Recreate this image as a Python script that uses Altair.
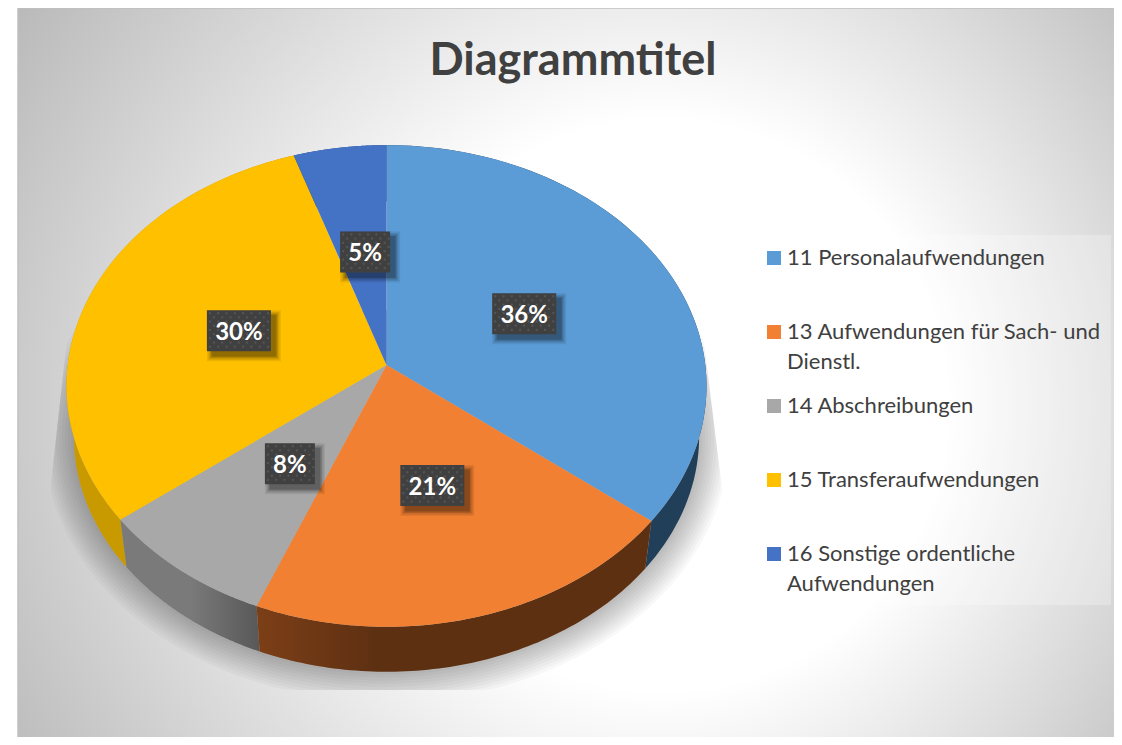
import numpy as np
import pandas as pd
import altair as alt

categories = ["11 Personalaufwendungen", "13 Aufwendungen für Sach- und\nDienstl.", "14 Abschreibungen",
              "15 Transferaufwendungen", "16 Sonstige ordentliche\nAufwendungen"]
values = [35.6, 20.51, 8.39, 30.4, 5.1]
colors = ["#5b9bd6", "#f28032", "#a8a8a8", "#ffc000", "#4472c4"]
wall_a = ["#213f58", "#7c3f17", "#7a7a7a", "#c99a00", "#2b4a82"]
wall_b = ["#213f58", "#5e3012", "#585858", "#b98c00", "#2b4a82"]
wall_mid = [0.5, 0.3, 0.5, 0.5, 0.5]
label_shift = [-3, 3, 3, 3, 3]

W, H = 1106, 729
CX, CY, A, B, K = 386.5, 365.0, 318.8, 239.0, 0.087


def project(theta, f=1.0):
    u, v = np.sin(theta) * f, np.cos(theta) * f
    w = 1 + K * v
    return CX + A * u / w, CY - B * v / w


def lower(x, y):
    return CX + 0.977 * (x - CX), CY + 51 + 0.977 * (y - CY)


xscale = alt.Scale(domain=[8, 8 + W], nice=False, zero=False)
yscale = alt.Scale(domain=[8 + H, 8], nice=False, zero=False)
xs = alt.X("x:Q", scale=xscale, axis=None)
ys = alt.Y("y:Q", scale=yscale, axis=None)


def poly(px, py, paint, opacity=1.0):
    df = pd.DataFrame({"x": np.round(px, 2), "y": np.round(py, 2), "o": np.arange(len(px))})
    return alt.Chart(df).mark_line(filled=True, interpolate="linear-closed", color=paint,
                                   strokeWidth=0, opacity=opacity, clip=False).encode(
        x=xs, y=ys, order=alt.Order("o:Q"))


def box(x0, x1, y0, y1, **kw):
    df = pd.DataFrame({"x": [x0], "x2": [x1], "y": [y0], "y2": [y1]})
    return alt.Chart(df).mark_rect(**kw).encode(x=xs, x2="x2:Q", y=ys, y2="y2:Q")


layers = []

# chart area with radial gradient (box deliberately taller than the view, the page clips it)
layers.append(box(18, 1130, -200, 950,
                  color=alt.RadialGradient(gradient="radial", x1=0.613, y1=0.53, r1=0.0,
                                           x2=0.523, y2=0.522, r2=0.62,
                                           stops=[alt.GradientStop(offset=0, color="#ffffff"),
                                                  alt.GradientStop(offset=0.4, color="#ffffff"),
                                                  alt.GradientStop(offset=1, color="#b8b8b8")])))
layers.append(box(18, 1130, 8, 750, fillOpacity=0, stroke="#c0c0c0", strokeWidth=1.5))

# soft shadow below the pie
t = np.linspace(0, 2 * np.pi, 241)
rx, ry = project(t)
lx, ly = lower(rx, ry)
for e in range(30, 0, -3):
    nx = CX + (lx - CX) * (1 + e / 312)
    ny = (CY + 51) + (ly - CY - 51) * (1 + e / 256)
    ny = np.clip(ny, 310, 690)
    left = 70 - (ny - 310) * 23 / 210
    left = np.maximum(left, 47)
    right = 700 + (ny - 310) * 26 / 210
    right = np.minimum(right, 726)
    nx = np.clip(nx, left, right)
    layers.append(poly(nx, ny, "#000000", 0.028))

# slices
frac = np.array(values) / sum(values)
edges = np.concatenate([[0], np.cumsum(frac)]) * 2 * np.pi

for i in [4, 0, 3, 2, 1]:
    th = np.linspace(edges[i], edges[i + 1], 80)
    tx, ty = project(th)
    bx, by = lower(tx, ty)
    layers.append(poly(np.r_[tx, bx[::-1]], np.r_[ty, by[::-1]],
                       alt.LinearGradient(gradient="linear", x1=0, x2=1, y1=0, y2=0,
                                          stops=[alt.GradientStop(offset=0, color=wall_a[i]),
                                                 alt.GradientStop(offset=wall_mid[i],
                                                                  color=wall_b[i] if i == 1 else wall_a[i]),
                                                 alt.GradientStop(offset=1, color=wall_b[i])])))
for i in range(5):
    th = np.linspace(edges[i], edges[i + 1], 120)
    tx, ty = project(th)
    layers.append(poly(np.r_[CX, tx], np.r_[CY, ty], colors[i]))

# data labels
for i in range(5):
    mid = (edges[i] + edges[i + 1]) / 2
    lx0, ly0 = project(mid, 0.5)
    lx0 += label_shift[i]
    text = f"{round(values[i])}%"
    hw = 25 if len(text) == 2 else 32
    x0, x1, y0, y1 = lx0 - hw, lx0 + hw, ly0 - 20.5, ly0 + 20.5
    for g, op in [(5, .07), (3.5, .10), (2, .14), (0.5, .2)]:
        layers.append(box(x0 + 5 - g, x1 + 5 + g, y0 + 5 - g, y1 + 5 + g, color="#000000", opacity=op))
    layers.append(box(x0, x1, y0, y1, color="#404040"))
    gx, gy = [], []
    for r, yy in enumerate(np.arange(y0 + 3, y1 - 1, 4.2)):
        for xx in np.arange(x0 + 3 + (r % 2) * 4, x1 - 1, 8.3):
            gx.append(xx)
            gy.append(yy)
    dots = pd.DataFrame({"x": gx, "y": gy})
    layers.append(alt.Chart(dots).mark_square(size=4, color="#565656", opacity=1).encode(x=xs, y=ys))
    layers.append(alt.Chart(pd.DataFrame({"x": [lx0], "y": [ly0 + 2], "t": [text]}))
                  .mark_text(font="Lato", fontSize=24, fontWeight="bold", color="#ffffff",
                             align="center", baseline="middle").encode(x=xs, y=ys, text="t:N"))

# title
layers.append(alt.Chart(pd.DataFrame({"x": [573], "y": [75], "t": ["Diagrammtitel"]}))
              .mark_text(font="Lato", fontSize=45, fontWeight="bold", color="#404040",
                         align="center", baseline="alphabetic").encode(x=xs, y=ys, text="t:N"))

# legend
layers.append(box(754, 1111, 235, 605, color="#ffffff", opacity=0.25))
leg = pd.DataFrame({"x": [774] * 5, "tx": [787] * 5,
                    "y": [258 + 74 * i for i in range(5)],
                    "ty": [265 + 74 * i for i in range(5)],
                    "t": categories, "c": colors})
layers.append(alt.Chart(leg).mark_square(size=196, opacity=1).encode(
    x=xs, y=ys, color=alt.Color("c:N", scale=None)))
layers.append(alt.Chart(leg).mark_text(font="Lato", fontSize=22, color="#404040", align="left",
                                       baseline="alphabetic", lineBreak="\n", lineHeight=29.5).encode(
    x=alt.X("tx:Q", scale=xscale, axis=None),
    y=alt.Y("ty:Q", scale=yscale, axis=None),
    text="t:N"))

chart = alt.layer(*layers).properties(
    width=W, height=H, padding=0, autosize=alt.AutoSizeParams(type="none"), background="#ffffff"
).configure_view(stroke=None)

chart.save("out.html", embed_options={"renderer": "svg", "actions": False})
